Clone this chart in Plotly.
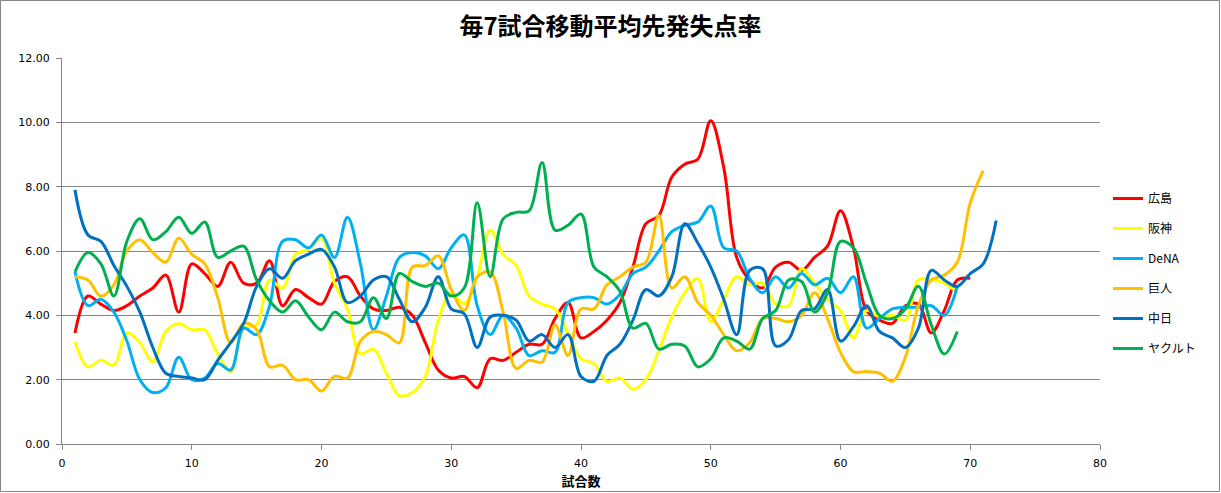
import plotly.graph_objects as go

series_names = ["広島", "阪神", "DeNA", "巨人", "中日", "ヤクルト"]
series_colors = ["#FF0000", "#FFFF00", "#00B0F0", "#FFC000", "#0070C0", "#00B050"]

hiroshima = [3.45, 4.6, 4.35, 4.15, 4.3, 4.6, 4.85, 5.25, 4.1, 5.6,
             5.3, 4.9, 5.65, 5.0, 5.0, 5.7, 4.3, 4.8, 4.55, 4.35,
             5.05, 5.2, 4.6, 4.2, 4.15, 4.25, 4.0, 3.15, 2.3, 2.05,
             2.1, 1.75, 2.65, 2.6, 2.85, 3.1, 3.1, 3.9, 4.4, 3.3,
             3.5, 3.85, 4.4, 5.5, 6.85, 7.1, 8.3, 8.7, 8.85, 10.05,
             8.6, 5.8, 5.1, 4.85, 5.5, 5.65, 5.4, 5.8, 6.15, 7.25,
             6.1, 4.15, 3.85, 3.75, 4.3, 4.35, 3.45, 4.15, 5.1, 5.15]
hanshin = [3.17, 2.4, 2.6, 2.45, 3.45, 3.15, 2.55, 3.5, 3.75, 3.55,
           3.55, 2.8, 2.25, 3.6, 3.7, 5.1, 4.85, 5.9, 6.05, 6.4,
           5.0, 4.2, 2.8, 2.95, 2.2, 1.5, 1.6, 2.1, 3.85, 4.7,
           4.35, 5.2, 6.65, 5.9, 5.55, 4.6, 4.35, 4.2, 3.45, 2.65,
           2.5, 1.95, 2.05, 1.7, 2.0, 2.9, 3.95, 4.7, 5.15, 3.8,
           4.5, 5.2, 4.95, 5.0, 4.35, 4.3, 5.45, 5.0, 4.5, 4.15,
           3.3, 4.15, 3.95, 4.0, 3.85, 5.1, 5.1, 5.0, 4.7]
dena = [5.35, 4.3, 4.5, 4.1, 3.2, 2.0, 1.6, 1.75, 2.7, 2.0,
        2.05, 2.5, 2.3, 3.6, 3.4, 4.3, 6.3, 6.35, 6.1, 6.5,
        5.8, 7.05, 5.6, 3.55, 4.6, 5.8, 5.95, 5.85, 5.45, 6.1,
        6.5, 4.3, 3.4, 4.0, 3.6, 2.75, 2.9, 2.85, 4.4, 4.55,
        4.55, 4.35, 4.65, 5.3, 5.5, 6.0, 6.6, 6.8, 6.9, 7.4,
        6.1, 6.0, 5.15, 4.7, 5.2, 4.85, 5.3, 4.95, 5.15, 4.7,
        5.2, 3.6, 3.9, 4.2, 4.25, 4.25, 4.3, 4.0, 4.9]
kyojin = [5.2, 5.1, 4.6, 4.95, 6.0, 6.35, 5.95, 5.65, 6.4, 5.9,
          5.6, 4.55, 3.15, 3.75, 3.55, 2.4, 2.45, 2.0, 2.0, 1.65,
          2.1, 2.05, 3.2, 3.5, 3.4, 3.15, 5.5, 5.55, 5.85, 4.8,
          4.15, 5.2, 5.35, 4.1, 2.35, 2.6, 2.55, 3.7, 2.75, 4.2,
          4.2, 4.95, 5.2, 5.5, 5.65, 7.1, 4.85, 5.2, 4.4, 4.0,
          3.4, 2.9, 3.15, 3.9, 3.9, 3.8, 4.0, 4.7, 3.9, 2.85,
          2.25, 2.25, 2.2, 1.95, 2.7, 4.3, 5.1, 5.25, 5.65, 7.5, 8.5]
chunichi = [7.9, 6.5, 6.3, 5.55, 4.9, 4.1, 3.0, 2.2, 2.1, 2.05,
            2.0, 2.6, 3.15, 3.75, 4.9, 5.45, 5.15, 5.7, 5.9, 6.05,
            5.5, 4.4, 4.6, 5.1, 5.2, 4.5, 3.8, 4.25, 5.2, 4.2,
            4.05, 3.0, 3.95, 4.0, 3.85, 3.2, 3.4, 3.0, 3.4, 2.1,
            1.95, 2.75, 3.1, 3.85, 4.8, 4.6, 5.2, 6.85, 6.25, 5.5,
            4.5, 3.4, 5.4, 5.45, 3.05, 3.25, 4.15, 4.2, 4.8, 3.2,
            3.65, 4.3, 3.5, 3.3, 3.0, 3.6, 5.4, 5.1, 4.9, 5.3, 5.6, 6.95]
yakult = [5.35, 5.95, 5.6, 4.6, 6.3, 7.0, 6.35, 6.6, 7.05, 6.55,
          6.9, 5.8, 6.0, 6.15, 5.1, 4.45, 4.1, 4.45, 3.95, 3.55,
          4.1, 3.8, 3.8, 4.55, 3.9, 5.3, 5.05, 4.9, 5.0, 4.6,
          4.85, 7.5, 5.2, 7.0, 7.2, 7.25, 8.75, 6.65, 6.8, 7.15,
          5.5, 5.2, 4.75, 3.6, 3.75, 2.95, 3.1, 3.05, 2.4, 2.65,
          3.3, 3.2, 2.95, 3.9, 4.15, 5.1, 5.05, 4.1, 4.7, 6.3,
          6.1, 5.0, 4.0, 3.9, 4.2, 4.9, 3.7, 2.8, 3.5]

all_series = [hiroshima, hanshin, dena, kyojin, chunichi, yakult]

x_ticks = [0, 10, 20, 30, 40, 50, 60, 70, 80]
y_ticks = [0, 2, 4, 6, 8, 10, 12]

TICK_FONT = "DejaVu Sans, sans-serif"
CJK = "Noto Sans CJK JP, sans-serif"
GRID = "#868686"

fig = go.Figure()
for name, color, vals in zip(series_names, series_colors, all_series):
    fig.add_trace(go.Scatter(
        x=list(range(1, len(vals) + 1)), y=vals, name=name, mode="lines",
        line=dict(color=color, width=3, shape="spline", smoothing=1.0),
        legendgroup=name,
    ))

fig.update_layout(
    width=1221, height=493,
    margin=dict(l=62, r=121, t=58, b=49, autoexpand=False),
    paper_bgcolor="white", plot_bgcolor="white",
    font=dict(family=TICK_FONT, size=11, color="#000000"),
    title=dict(text="<b>毎7試合移動平均先発失点率</b>", x=0.5, xanchor="center",
               y=1 - 27 / 493, yanchor="middle",
               font=dict(family=CJK, size=24, color="#000000")),
    showlegend=True,
    legend=dict(x=(1108 - 62) / 1038, xanchor="left", y=(444 - 184) / 386, yanchor="top",
                font=dict(family=CJK, size=12, color="#000000"),
                tracegroupgap=11, itemwidth=30, bgcolor="rgba(0,0,0,0)"),
    xaxis=dict(range=[0, 80], tickvals=x_ticks, ticks="outside", ticklen=5,
               tickcolor=GRID, showline=True, linecolor=GRID, linewidth=1,
               showgrid=False, zeroline=False, ticklabelstandoff=4, automargin=False,
               tickfont=dict(size=11, family=TICK_FONT),
               title=dict(text="<b>試合数</b>", standoff=7,
                          font=dict(family=CJK, size=13))),
    yaxis=dict(range=[0, 12], tickvals=y_ticks, tickformat=".2f", ticks="outside",
               ticklen=5, tickcolor=GRID, showline=True, linecolor=GRID, linewidth=1,
               showgrid=True, gridcolor=GRID, gridwidth=1, zeroline=False,
               ticklabelstandoff=4, automargin=False,
               tickfont=dict(size=11, family=TICK_FONT)),
    shapes=[dict(type="rect", xref="paper", yref="paper",
                 x0=-61.5 / 1038, x1=(1219.5 - 62) / 1038,
                 y0=-(491.5 - 444) / 386, y1=(444 - 0.5) / 386,
                 line=dict(color=GRID, width=1), fillcolor="rgba(0,0,0,0)", layer="below")],
)

fig.write_html("out.html", config={"displayModeBar": False},
               post_script="document.body.style.margin='0px';")
